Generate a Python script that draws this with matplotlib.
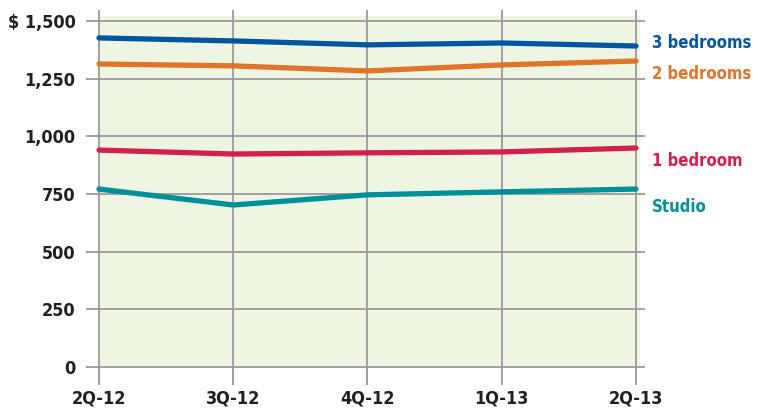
import matplotlib.pyplot as plt
from matplotlib import font_manager

quarters = ['2Q-12', '3Q-12', '4Q-12', '1Q-13', '2Q-13']
three_bed = [1426, 1413, 1396, 1404, 1391]
two_bed = [1313, 1305, 1283, 1309, 1326]
one_bed = [940, 923, 928, 932, 949]
studio = [771, 702, 746, 759, 771]

y_ticks = [0, 250, 500, 750, 1000, 1250, 1500]
y_labels = ['0', '250', '500', '750', '1,000', '1,250', '$ 1,500']

# look for a condensed bold face, otherwise use a narrow-ish sans
fonts = font_manager.fontManager.ttflist
order = {'condensed': 0, 'semi-condensed': 1, 'extra-condensed': 2, 'ultra-condensed': 3}
cond = [f for f in fonts if f.stretch in order]
cond.sort(key=lambda f: (order[f.stretch], f.weight not in ('bold', 700)))
if cond:
    fam = cond[0].name
    stretch = cond[0].stretch
    fs = 13 if stretch == 'condensed' else 12
else:
    fam = 'Liberation Sans'
    stretch = 'normal'
    fs = 12
plt.rcParams['font.family'] = [fam, 'DejaVu Sans']
plt.rcParams['font.stretch'] = stretch
plt.rcParams['font.weight'] = 'bold'

W, H = 758, 409
fig = plt.figure(figsize=(W / 100, H / 100), dpi=100)
ax = fig.add_axes([99 / W, 1 - 367 / H, (640 - 99) / W, (367 - 16) / H])
ax.set_facecolor('#eef6e3')
for s in ax.spines.values():
    s.set_visible(False)

xs = list(range(len(quarters)))
ax.set_xlim(0, 4.03)
ax.set_ylim(0, 1521)

grid = '#9a9a9a'
ax.hlines(y_ticks, -0.1, 4.07, color=grid, lw=1.3, clip_on=False, zorder=1)
ax.vlines(xs, -78, 1547, color=grid, lw=1.3, clip_on=False, zorder=1)

series = [
    (three_bed, '#0057a0', '3 bedrooms', 1404),
    (two_bed, '#e07428', '2 bedrooms', 1270),
    (one_bed, '#d31f4a', '1 bedroom', 893),
    (studio, '#00909a', 'Studio', 693),
]
for vals, col, name, ly in series:
    ax.plot(xs, vals, color=col, lw=3.8, solid_capstyle='round', zorder=3, clip_on=False)
    ax.text(4.12, ly, name, color=col, fontsize=fs - 1, fontweight='bold', va='center', ha='left')

ax.set_yticks(y_ticks)
ax.set_yticklabels(y_labels)
ax.set_xticks(xs)
ax.set_xticklabels(quarters)
ax.tick_params(axis='y', length=0, pad=17, labelsize=fs, labelcolor='#231f20')
ax.tick_params(axis='x', length=0, pad=16, labelsize=fs, labelcolor='#231f20')
for lab in ax.get_xticklabels() + ax.get_yticklabels():
    lab.set_fontweight('bold')

fig.savefig('out.png', dpi=100)
